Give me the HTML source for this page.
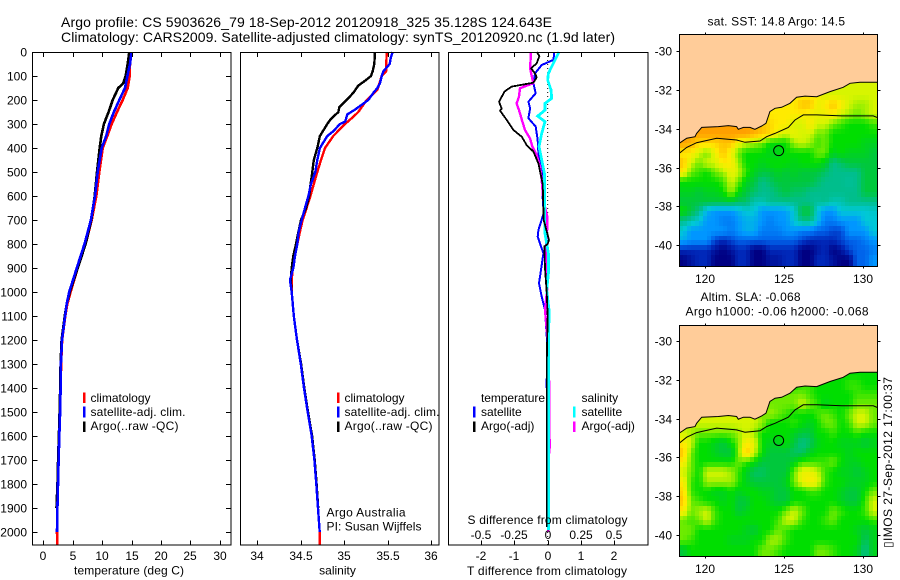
<!DOCTYPE html>
<html>
<head>
<meta charset="utf-8">
<title>Argo profile</title>
<style>
html,body{margin:0;padding:0;background:#fff;}
svg{display:block;}
text{font-family:"Liberation Sans",Arial,sans-serif;font-size:12px;fill:#000;}
.ttl{font-size:14px;}
.sm{font-size:12px;}
</style>
</head>
<body>
<svg id="chart" xmlns="http://www.w3.org/2000/svg" width="900" height="580" viewBox="0 0 900 580">
  <defs>
    <clipPath id="clip-a"><rect x="679.5" y="34.5" width="198" height="232"/></clipPath>
    <clipPath id="clip-b"><rect x="679.5" y="325.5" width="198" height="231"/></clipPath>
  </defs>
  <text class="ttl" x="61" y="27" textLength="491">Argo profile: CS 5903626_79 18-Sep-2012 20120918_325 35.128S 124.643E</text>
  <text class="ttl" x="61" y="42" textLength="554">Climatology: CARS2009. Satellite-adjusted climatology: synTS_20120920.nc (1.9d later)</text>

  <g id="g-temp"></g>
  <g id="g-sal"></g>
  <g id="g-diff"></g>
  <g id="g-map-a" clip-path="url(#clip-a)"></g>
  <g id="g-map-b" clip-path="url(#clip-b)"></g>
  <g id="g-axes"></g>

  <rect x="32.5" y="52.5" width="198.5" height="492.5" fill="none" stroke="#000"/>
  <rect x="240.5" y="52.5" width="198.5" height="492.5" fill="none" stroke="#000"/>
  <rect x="448.5" y="52.5" width="199.5" height="492.5" fill="none" stroke="#000"/>
  <rect x="679.5" y="34.5" width="198" height="232" fill="none" stroke="#000"/>
  <rect x="679.5" y="325.5" width="198" height="231" fill="none" stroke="#000"/>

  <text x="129" y="574.5" text-anchor="middle" textLength="110">temperature (deg C)</text>
  <text x="337.5" y="574.5" text-anchor="middle">salinity</text>
  <text x="467" y="575" textLength="160">T difference from climatology</text>
  <text x="467.5" y="524" textLength="160">S difference from climatology</text>

  <g>
    <rect x="83" y="392.5" width="2.5" height="10.5" fill="#ff0000"/>
    <rect x="83" y="406.5" width="2.5" height="11" fill="#0000ff"/>
    <rect x="83" y="421.5" width="2.5" height="10.5" fill="#000"/>
    <text x="90.5" y="402">climatology</text>
    <text x="90.5" y="416" textLength="95">satellite-adj. clim.</text>
    <text x="90.5" y="430" textLength="88">Argo(..raw -QC)</text>
  </g>
  <g>
    <rect x="337" y="392.5" width="2.5" height="10.5" fill="#ff0000"/>
    <rect x="337" y="406.5" width="2.5" height="11" fill="#0000ff"/>
    <rect x="337" y="421.5" width="2.5" height="10.5" fill="#000"/>
    <text x="344.5" y="402">climatology</text>
    <text x="344.5" y="416" textLength="95">satellite-adj. clim.</text>
    <text x="344.5" y="430" textLength="88">Argo(..raw -QC)</text>
    <text x="326.5" y="516.5" textLength="79">Argo Australia</text>
    <text x="326.5" y="530.5" textLength="95">PI: Susan Wijffels</text>
  </g>
  <g>
    <text x="481" y="402" textLength="64">temperature</text>
    <text x="481" y="416">satellite</text>
    <text x="481" y="430">Argo(-adj)</text>
    <rect x="473" y="406.5" width="2.5" height="11" fill="#0000ff"/>
    <rect x="473" y="421.5" width="2.5" height="10.5" fill="#000"/>
    <text x="581.5" y="402">salinity</text>
    <text x="581.5" y="416">satellite</text>
    <text x="581.5" y="430">Argo(-adj)</text>
    <rect x="573" y="406.5" width="2.5" height="11" fill="#00ffff"/>
    <rect x="573" y="421.5" width="2.5" height="10.5" fill="#ff00ff"/>
  </g>

  <text x="707.5" y="25.5" textLength="137.5">sat. SST: 14.8 Argo: 14.5</text>
  <text x="700.5" y="301" textLength="100">Altim. SLA: -0.068</text>
  <text x="685.5" y="315.5" textLength="183">Argo h1000: -0.06 h2000: -0.068</text>
  <text transform="translate(892,548) rotate(-90)" textLength="171">▯IMOS 27-Sep-2012 17:00:37</text>
</svg>

<script>
// ---- Tick labels ----
const depthTicks = [0,100,200,300,400,500,600,700,800,900,1000,1100,1200,1300,1400,1500,1600,1700,1800,1900,2000];
const tempTicks = [0,5,10,15,20,25,30];
const salTicks = [34,34.5,35,35.5,36];
const tDiffTicks = [-2,-1,0,1,2];
const sDiffTicks = [-0.5,-0.25,0,0.25,0.5];
const lonTicks = [120,125,130];
const latTicks = [30,32,34,36,38,40];

// ---- Temperature profiles ----
const tempClimDepth = [0,100,150,200,250,300,350,400,500,600,700,800,900,1000,1050,1100,1200,1300,1400,1500,1600,1700,1800,1900,2000,2054];
const tempClim = [14.8,14.69,14.35,13.5,12.54,11.63,10.89,10.1,9.53,9.02,8.23,7.2,5.85,4.65,4.09,3.75,3.2,3.02,2.95,2.85,2.72,2.6,2.5,2.4,2.33,2.4];
const tempSatDepth = [0,50,100,130,150,200,250,300,350,400,500,600,700,800,900,1000,1050,1100,1200,1300,1400,1500,1600,1700,1800,1900,2000];
const tempSat = [15,14.75,14.3,14.06,13.9,12.93,12,11.2,10.7,9.93,9.25,8.8,8.1,7,5.7,4.4,3.98,3.7,3.18,3,2.95,2.85,2.72,2.6,2.5,2.4,2.33];
const tempArgoDepth = [0,50,100,130,150,200,250,300,350,400,500,600,700,800,900,1000,1050,1100,1200,1300,1400,1500,1600,1700,1800,1900];
const tempArgo = [14.63,14.35,14,13.6,12.75,11.8,11.1,10.3,9.87,9.6,9.13,8.74,8.17,7.2,5.85,4.5,3.98,3.65,3.12,2.95,2.88,2.78,2.65,2.52,2.42,2.25];

// ---- Salinity profiles ----
const salClimDepth = [0,80,100,158,200,250,270,300,350,400,450,500,550,600,650,700,750,800,850,900,950,1000,1100,1200,1300,1400,1500,1600,1700,1800,1900,2000,2054];
const salClim = [35.487,35.48,35.43,35.38,35.257,35.161,35.103,35.008,34.874,34.778,34.732,34.69,34.65,34.61,34.567,34.521,34.49,34.46,34.426,34.407,34.395,34.395,34.42,34.456,34.5,34.537,34.579,34.625,34.656,34.678,34.698,34.717,34.72];
const salSatDepth = [0,25,50,80,100,130,150,170,200,220,240,260,270,290,300,330,350,400,450,500,550,600,650,700,750,800,850,900,950,1000,1100,1200,1300,1400,1500,1600,1700,1800,1900,2000];
const salSat = [35.556,35.533,35.522,35.449,35.43,35.41,35.38,35.334,35.276,35.2,35.123,35.035,35.027,35.01,34.95,34.874,34.805,34.72,34.69,34.667,34.617,34.587,34.548,34.51,34.475,34.46,34.433,34.414,34.376,34.395,34.42,34.456,34.5,34.537,34.579,34.625,34.656,34.678,34.698,34.717];
const salArgoDepth = [0,50,80,100,120,140,170,200,230,250,280,300,350,400,450,500,550,600,650,700,750,800,850,900,950,1000,1100,1200,1300,1400,1500,1600,1700,1800,1900];
const salArgo = [35.353,35.345,35.326,35.307,35.238,35.161,35.103,35.027,34.943,34.932,34.843,34.805,34.72,34.69,34.65,34.632,34.613,34.597,34.56,34.502,34.472,34.445,34.414,34.395,34.384,34.395,34.42,34.456,34.503,34.54,34.583,34.63,34.66,34.682,34.7];

// ---- Difference profiles ----
const dTSatDepth = [0,33,54,89,130,172,207,235,276,311,367,422,478,589,672,742,769,839,908,964,1019,1075,1200,1400];
const dTSat = [0.2,0.17,-0.18,-0.38,-0.43,-0.36,-0.58,-0.53,-0.58,-0.36,-0.3,-0.28,-0.18,-0.16,-0.12,-0.28,-0.3,-0.13,-0.2,-0.26,-0.18,-0.08,-0.02,-0.03];
const dTArgoDepth = [0,17,47,68,89,106,128,144,165,208,236,245,283,325,353,388,415,464,550,700,783,800,810,900,1000,1100,1300,1980];
const dTArgo = [-0.33,-0.25,-0.33,-0.5,-0.38,-0.33,-0.43,-1.08,-1.3,-1.46,-1.38,-1.43,-1.23,-1.03,-0.78,-0.63,-0.43,-0.28,-0.15,-0.12,0.04,0,-0.1,-0.08,-0.03,0,-0.03,-0.03];
const dSArgoDepth = [0,68,130,151,186,214,242,290,325,360,394,429,478,533,617,686,756,811,928,983,1075,1200,1400,1650,1700,2000];
const dSArgo = [-0.125,-0.132,-0.108,-0.208,-0.215,-0.233,-0.215,-0.19,-0.17,-0.133,-0.115,-0.083,-0.058,-0.045,-0.033,-0.003,-0.005,-0.0125,-0.0125,-0.003,-0.02,0,0.012,0.014,0.005,0.005];
const dSSatDepth = [0,33,89,117,158,193,214,242,267,290,339,394,450,506,617,756,839,922,992,1075,1300,1992];
const dSSat = [0.085,0.055,0.005,0,0.025,0.03,-0.02,-0.02,-0.075,-0.02,-0.045,-0.065,-0.045,-0.025,-0.025,-0.02,0.005,0.005,-0.0075,0.01,0.005,0.005];

// ---- Map data (colour levels, one row per 0.5 deg latitude from 31.5S, one column per 0.5 deg from 118.35E) ----
const sstLevels = [
[9,9,9,9,9,9,9,9,9,9,9,9,9,9,9,9,9,9,9,9,9,9,9,9,9],
[9,9,9,9,9,9,9,9,9,9,9,9,10,10,10,10,10,10,9,9,9,9,9,9,9],
[10,10,10,10,10,10,10,10,10,10,10,10,10,10,10,11,11,9.5,10,11,10,9,8.5,8.5,9],
[12,12,12,12,12,12,12,12,12,12,11,10,10,10,10,10,9.5,9.5,9.5,10,9,8.5,8,8.5,9],
[12,12,12,12,12,12,12,12,12,12,11,10.5,10,10,9,9,10,9,9,8,7.5,7,7,7,7.5],
[12,12,12,12,12,12,12,12,12,11.5,11,10.5,9.5,9,9.5,9,9,8,8,7,7,7,7,7,7],
[12,11.5,10.5,10.5,10.5,11,11,9.5,9,8.5,8,7,7,7,8.5,9,8.5,7.5,8,7,7,7,7,6.5,6.5],
[10,10,9,8,9.5,11,9.5,8,7,7,7,6.5,6.5,7,7,7,7,8,8,6.5,7,6.5,6.5,6.5,6],
[11,9,8,9,9,10,10,8.5,7,7,6.5,7,7,7,6.5,7,7,7,6.5,5,5.5,6,6,6,6],
[10,8,7.5,7,8,8.5,9.5,9,7.5,6.5,6,6,6.5,6,6.5,6,6,6,5.5,5,5,5,5,6,6],
[7,7,7,7,7,7.5,9,8,6.5,6,5,5.5,6,6,6,6,6,5.5,5,5,5,4.8,5,6,6],
[6.5,6.5,6,6.5,6.5,7,8.5,7,6,5.5,5,5,5.5,6,5.5,5.5,5,5,5,5,5,5,5,6,6],
[6,6,6,6,6,6,6,5.5,5.5,4.5,4.5,5,5,5,5,5,5,4.8,5,4.5,4.5,5,5,5,5],
[7,6,5,3.5,3,3,3,3.5,4,4,3,3,3,3.2,4,6,6,4,3,3,4,4,4,4,4.2],
[5,4.5,4,3,3,2.5,2.5,3,3.5,3.5,3,2.5,3,3,4,5,5,4,2.5,2.5,3,3,3,4,4],
[4,3,3,3,3,3,2.5,3,3.5,3.5,2.5,2.5,2.5,3,3,2.5,2.5,2,2,1.5,1.5,3,3,3,4],
[3.5,3,3,3,1.5,1,1.5,2,2,2,2,2,2,2,2,1.5,1,1,1,1,1.5,2,2,2.5,3],
[1,1,1,1,0.5,0,0.5,1,1,0,0,1,1,1,1,0,0,0.5,1,0,0.5,1.5,2,2,2.5],
[0,0.5,1,1,0,0,0,1,1,0,0,0.5,0.5,1,1,0,0,1,1,0.5,0,0,2,2,3],
[0,0.5,1,1,0,0,0,1,1,0,0,0.5,0.5,1,1,0,0,1,1,0.5,0,0,2,2,3]
];
const slaLevels = [
[7,7,7,7,7,7,7,7,7,7,7,7,7,7,7,7,7,7,7,7,7,7,7,7,7],
[7,7,7,7,7,7,7,7,7,7,7,7,7,7,7,7.5,7.5,7,7,7,7,7.5,7.5,7,7],
[8,8,8,8,8,8,8,8,8,8,8,8,8,8,8,8,7.5,7,7,7,7,7,7.5,7.5,7.5],
[9,9,9,9,9,9,9,9,9,9,8,8,8,8,8,9,8,7.5,6.5,7,7,7,8,8,8],
[9,9,9,9,9,9,9,9,9,9,8,8.5,8,7.5,7,7,7,7.5,8,7.5,7,8,9,9,8],
[9,9,9,9,9,9,9,9,9,9,8.5,7,7,7,7.5,7,6.5,7,8,8,7,7.5,9,9,8],
[9,8.5,8,8,8,8,8,8.5,9,8.5,7,7,7,7,6.5,6,6,7,7,7.5,7,7,7.5,7,7],
[10,9,7,7,6.5,6,7,8,10,9.5,7,6.5,6.5,7,6,5,5.5,6.5,7,7,6.5,6.5,6.5,6,6.5],
[11,8,7,7,6.5,6,6,8,11,9,7,6,6,6,5.5,5.5,6.5,7,7,7,7,6.5,7,7,7],
[10,8,7,7,7,7,7,8,7.5,7,6,6,6,6,6.5,7.5,7.5,7.5,7.5,8,7,6.5,6.5,7,7],
[9,8,7,9,9,9,8.5,7.5,6.5,5.5,5.5,6,6,6,8,9.5,9.5,9,7.5,7,6.5,6.5,6,6.5,7],
[10,7.5,7,8.5,8.5,8.5,8.5,7.5,6.5,6,6,6,6,6.5,8,9.5,10,9.5,7.5,7,7,6.5,6.5,6.5,7],
[10.5,7.5,7,7,6.5,6.5,7,6.5,7,7,6.5,6.5,6,6,7,7,7.5,7.5,7,7,6.5,6,6,7,8],
[11,8,7.5,7,7,6.5,7,6,6,7,7,6.5,6,6,7,7,7,7,7,7,6.5,6,6,7.5,9],
[10,8,8.5,9,7.5,7,7,6,6.5,7,7,7,7,8,9,8,7,7,7,8,7.5,7,7,7.5,9],
[8,7.5,8,9,7.5,7,7,7,7,7,7,7,7.5,9,9,7.5,7,7,7.5,8,7,7,7,7,7.5],
[8,8,7,7,7,7,7,7,6.5,6,7,7,8,7.5,7,7,7,7,7,7,7,7,6.5,6,6.5],
[8,7.5,7,7,7,7,6.5,6.5,6.5,7,7,8.5,8.5,7.5,7,7,7,7,7,7,7,7,7,5.5,6.5],
[6,7,7,7,7,7,7,7,7,7,8,8,7.5,7,7,7,7,8,8,7.5,7,7,6.5,5,6.5],
[6,7,7,7,7,7,7,7,7,7,8,8,7.5,7,7,7,7,8,8,7.5,7,7,6.5,5,6.5]
];
const coastLon = [118.35,118.5,118.82,119.35,119.45,119.77,120.82,121.46,121.98,122.09,122.41,122.83,123.14,123.57,123.84,124.09,124.41,124.83,125.36,125.78,126.31,127.05,127.89,128.73,129.16,129.79,130.89];
const coastLat = [34.75,34.67,34.49,34.41,34.24,33.93,33.89,33.84,33.89,34.03,33.93,33.93,34.03,33.86,33.72,33.12,32.95,32.9,32.69,32.38,32.32,32.35,32.09,31.87,31.66,31.61,31.61];
const shelfLon = [118.35,118.82,119.45,120.72,121.98,122.51,123.46,123.88,124.41,125.25,125.68,126.2,127.05,128.63,130.63,130.89];
const shelfLat = [35.27,34.96,34.72,34.49,34.58,34.7,34.63,34.41,34.24,33.93,33.55,33.29,33.29,33.34,33.34,33.43];
const profileLon = [124.643];
const profileLat = [35.128];

// ---- Axis functions ----
const depthY = d => 52 + d * 0.24;
const tempX = t => 43.3 + t * 5.88;
const salX = s => 257.3 + (s - 34) * 87;
const dTX = v => 547.7 + v * 33.3;
const dSX = v => 547.7 + v * 133.3;
const lonX = l => 705.3 + (l - 120) * 15.8;
const latYA = l => 51 + (l - 30) * 19.43;
const latYB = l => 341 + (l - 30) * 19.4;

const NS = 'http://www.w3.org/2000/svg';
function mk(parent, tag, attrs, txt) {
  const el = document.createElementNS(NS, tag);
  for (const k in attrs) el.setAttribute(k, attrs[k]);
  if (txt !== undefined) el.textContent = txt;
  parent.appendChild(el);
  return el;
}
function profile(parent, name, xs, ds, xf, color, w) {
  const pts = xs.map((v, i) => xf(v).toFixed(1) + ',' + depthY(ds[i]).toFixed(1)).join(' ');
  const el = mk(parent, 'polyline', {points: pts, fill: 'none', stroke: color, 'stroke-width': w, 'shape-rendering': 'crispEdges'});
  
  
}

const gT = document.getElementById('g-temp');
profile(gT, 'temp-climatology-line', tempClim, tempClimDepth, tempX, '#ff0000', 2.6);
profile(gT, 'temp-argo-line', tempArgo, tempArgoDepth, tempX, '#000000', 2.6);
profile(gT, 'temp-satellite-line', tempSat, tempSatDepth, tempX, '#0000ff', 2.6);

const gS = document.getElementById('g-sal');
profile(gS, 'sal-climatology-line', salClim, salClimDepth, salX, '#ff0000', 2.4);
profile(gS, 'sal-argo-line', salArgo, salArgoDepth, salX, '#000000', 2.4);
profile(gS, 'sal-satellite-line', salSat, salSatDepth, salX, '#0000ff', 2.4);

const gD = document.getElementById('g-diff');
const zero = mk(gD, 'line', {x1: dTX(0), x2: dTX(0), y1: 52, y2: 545, stroke: '#000', 'stroke-dasharray': '1 3'});


profile(gD, 'dt-satellite-line', dTSat, dTSatDepth, dTX, '#0000ff', 2);
profile(gD, 'ds-argo-line', dSArgo, dSArgoDepth, dSX, '#ff00ff', 2.4);
profile(gD, 'ds-satellite-line', dSSat, dSSatDepth, dSX, '#00ffff', 2.8);
profile(gD, 'dt-argo-line', dTArgo, dTArgoDepth, dTX, '#000000', 1.8);

// ---- Maps ----
const levelColors = [[0,0,130],[0,40,185],[0,100,235],[0,150,255],[0,200,215],[0,190,140],[0,200,60],[0,222,0],[110,235,0],[215,245,0],[255,235,0],[255,195,0],[255,160,0]];
function levelColor(v) {
  const c = Math.max(0, Math.min(levelColors.length - 1, v));
  const i = Math.min(levelColors.length - 2, Math.floor(c));
  const f = c - i;
  const rgb = levelColors[i].map((a, k) => Math.round(a + (levelColors[i + 1][k] - a) * f));
  return 'rgb(' + rgb.join(',') + ')';
}
// Each grid value is sampled at quarter-degree resolution, blending neighbouring grid cells.
function sampleGrid(grid, u, v) {
  const rows = grid.length, cols = grid[0].length;
  const uu = Math.max(0, Math.min(cols - 1, u)), vv = Math.max(0, Math.min(rows - 1, v));
  const c0 = Math.min(cols - 2, Math.floor(uu)), r0 = Math.min(rows - 2, Math.floor(vv));
  const fu = uu - c0, fv = vv - r0;
  return grid[r0][c0] * (1 - fu) * (1 - fv) + grid[r0][c0 + 1] * fu * (1 - fv) +
         grid[r0 + 1][c0] * (1 - fu) * fv + grid[r0 + 1][c0 + 1] * fu * fv;
}
function drawMap(gid, grid, latY, prefix) {
  const g = document.getElementById(gid);
  const rows = grid.length * 2, cols = grid[0].length * 2;
  for (let r = 0; r < rows; r++) {
    for (let c = 0; c < cols; c++) {
      const x0 = Math.round(lonX(118.35 + c * 0.25));
      const x1 = Math.round(lonX(118.35 + (c + 1) * 0.25));
      const y0 = Math.round(latY(31.5 + r * 0.25));
      const y1 = Math.round(latY(31.5 + (r + 1) * 0.25));
      const val = sampleGrid(grid, (c + 0.5) / 2 - 0.5, (r + 0.5) / 2 - 0.5);
      const cell = mk(g, 'rect', {x: x0, y: y0, width: x1 - x0 + 0.5, height: y1 - y0 + 0.5, fill: levelColor(val), 'shape-rendering': 'crispEdges'});
      
      
    }
  }
  const landPts = coastLon.map((l, i) => lonX(l).toFixed(1) + ',' + latY(coastLat[i]).toFixed(1));
  landPts.push(lonX(131) + ',' + latY(31.61), lonX(131) + ',' + latY(28), lonX(118) + ',' + latY(28), lonX(118) + ',' + latY(34.75));
  const land = mk(g, 'polygon', {points: landPts.join(' '), fill: '#ffcc99', 'shape-rendering': 'crispEdges'});
  
  
  const coast = mk(g, 'polyline', {points: coastLon.map((l, i) => lonX(l).toFixed(1) + ',' + latY(coastLat[i]).toFixed(1)).join(' '), fill: 'none', stroke: '#000', 'stroke-width': 1});
  
  
  const shelf = mk(g, 'polyline', {points: shelfLon.map((l, i) => lonX(l).toFixed(1) + ',' + latY(shelfLat[i]).toFixed(1)).join(' '), fill: 'none', stroke: '#000', 'stroke-width': 1});
  
  
  const marker = mk(g, 'circle', {cx: lonX(profileLon[0]), cy: latY(profileLat[0]), r: 5, fill: 'none', stroke: '#000', 'stroke-width': 1});
  
  
}
drawMap('g-map-a', sstLevels, latYA, 'sst');
drawMap('g-map-b', slaLevels, latYB, 'sla');

// ---- Axes ----
const gA = document.getElementById('g-axes');
function tick(name, x1, y1, x2, y2) {
  const t = mk(gA, 'line', {x1: x1, y1: y1, x2: x2, y2: y2, stroke: '#000', 'stroke-width': 1, 'shape-rendering': 'crispEdges'});
  
  
}
function label(name, x, y, anchor, s) {
  const t = mk(gA, 'text', {x: x, y: y, 'text-anchor': anchor}, s);
  
  
}
depthTicks.forEach(d => {
  const y = Math.round(depthY(d)) + 0.5;
  tick('depth-tick-left', 32.5, y, 37.5, y);
  tick('depth-tick-right', 226, y, 231, y);
  label('depth-tick-label', 27, y + 4, 'end', String(d));
});
function xAxis(prefix, ticks, xf, labelY) {
  ticks.forEach(v => {
    const x = Math.round(xf(v)) + 0.5;
    tick(prefix + '-tick-top', x, 52.5, x, 57);
    tick(prefix + '-tick-bottom', x, 540.5, x, 545);
    if (labelY) label(prefix + '-tick-label', x - 0.5, labelY, 'middle', String(v));
  });
}
xAxis('temperature', tempTicks, tempX, 560);
xAxis('salinity', salTicks, salX, 560);
xAxis('t-difference', tDiffTicks, dTX, 560);
sDiffTicks.forEach(v => {
  label('s-difference-tick-label', Math.round(dSX(v)), 539, 'middle', String(v));
});
function mapAxes(prefix, latY, top, bottom, labelY) {
  lonTicks.forEach(l => {
    const x = Math.round(lonX(l)) + 0.5;
    tick(prefix + '-lon-tick-top', x, top - 2, x, top);
    tick(prefix + '-lon-tick-bottom', x, bottom, x, bottom + 2);
    label(prefix + '-lon-label', x - 0.5, labelY, 'middle', String(l));
  });
  latTicks.forEach(l => {
    const y = Math.round(latY(l)) + 0.5;
    tick(prefix + '-lat-tick-left', 676.5, y, 679.5, y);
    tick(prefix + '-lat-tick-right', 877.5, y, 880.5, y);
    label(prefix + '-lat-label', 672, y + 4, 'end', '-' + l);
  });
}
mapAxes('sst', latYA, 34.5, 266.5, 283);
mapAxes('sla', latYB, 325.5, 556.5, 573);
</script>
</body>
</html>
